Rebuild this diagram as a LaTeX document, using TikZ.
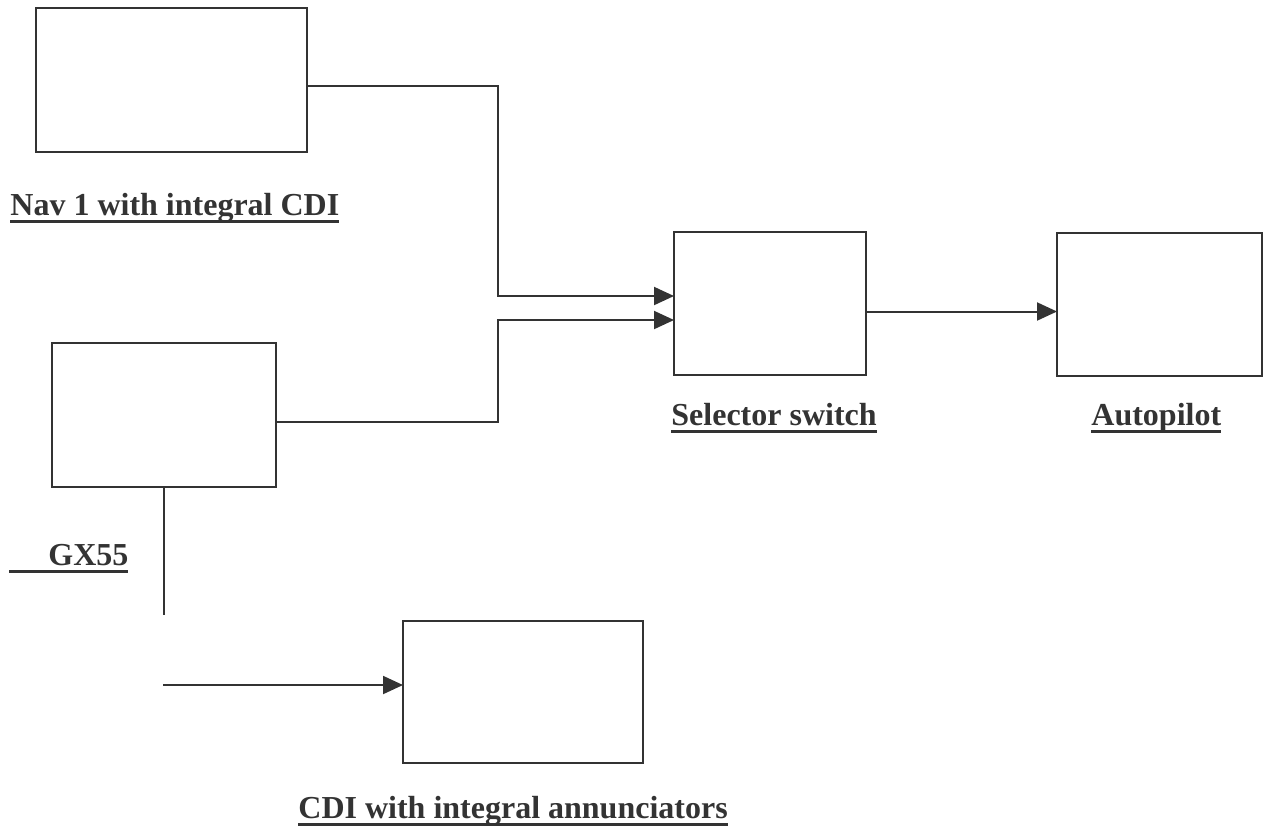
\documentclass[tikz,border=0pt]{standalone}
\usepackage{fontspec}
\setmainfont{Liberation Serif}
\usepackage{tikz}
\usepackage{xcolor}
\usetikzlibrary{
    arrows,
    arrows.meta,
    shapes,
    positioning,
    calc
}
\definecolor{ink}{gray}{0.2}
\newcommand{\ulbl}[1]{\setbox0=\hbox{#1}\rlap{\rule[-4pt]{\wd0}{1.3pt}}\box0}
\tikzset{
    unit/.style={draw=ink, line width=1pt, rectangle, outer sep=0pt, inner sep=0pt},
    lbl/.style={anchor=base west, inner sep=0pt, text=ink, font=\bfseries\fontsize{16}{19}\selectfont},
    wire/.style={draw=ink, line width=1pt},
    feed/.style={wire, -{Triangle[length=10pt,width=9pt]}}
}

\begin{document}
\begin{tikzpicture}[x=0.5pt, y=-0.5pt]
                \useasboundingbox (0, 0) rectangle (1267, 837);
                % boxes
                \node [unit, minimum width=135.5pt, minimum height=72pt] (nav) at (171.5, 80) {};
                \node [unit, minimum width=112pt, minimum height=72pt] (gx) at (164, 415) {};
                \node [unit, minimum width=96pt, minimum height=71.5pt] (sel) at (770, 303.5) {};
                \node [unit, minimum width=102.5pt, minimum height=71.5pt] (ap) at (1159.5, 304.5) {};
                \node [unit, minimum width=120pt, minimum height=71pt] (cdi) at (523, 692) {};
                % labels
                \node [lbl] (navlbl) at (10, 215) {\ulbl{Nav 1 with integral CDI}};
                \node [lbl] (gxlbl) at (9, 565) {\ulbl{\makebox[59.5pt][r]{GX55}}};
                \node [lbl] (sellbl) at (671, 425) {\ulbl{Selector switch}};
                \node [lbl] (aplbl) at (1091, 425) {\ulbl{Autopilot}};
                \node [lbl] (cdilbl) at (298, 818) {\ulbl{CDI with integral annunciators}};
                % connectors
                \coordinate (navturn) at (498, 296);
                \coordinate (gxturn) at (498, 320);
                \coordinate (gxend) at (164, 615);
                \coordinate (cdifeed) at (163, 685);
                \draw [feed] ([yshift=-3pt]nav.east) -| (navturn) -- (sel.west |- navturn);
                \draw [feed] ([yshift=-3.5pt]gx.east) -| (gxturn) -- (sel.west |- gxturn);
                \draw [feed] ([yshift=-4pt]sel.east) -- ([yshift=-4pt]sel.east -| ap.west);
                \draw [wire] (gx.south) -- (gxend);
                \draw [feed] (cdifeed) -- (cdi.west |- cdifeed);
            \end{tikzpicture}
\end{document}
